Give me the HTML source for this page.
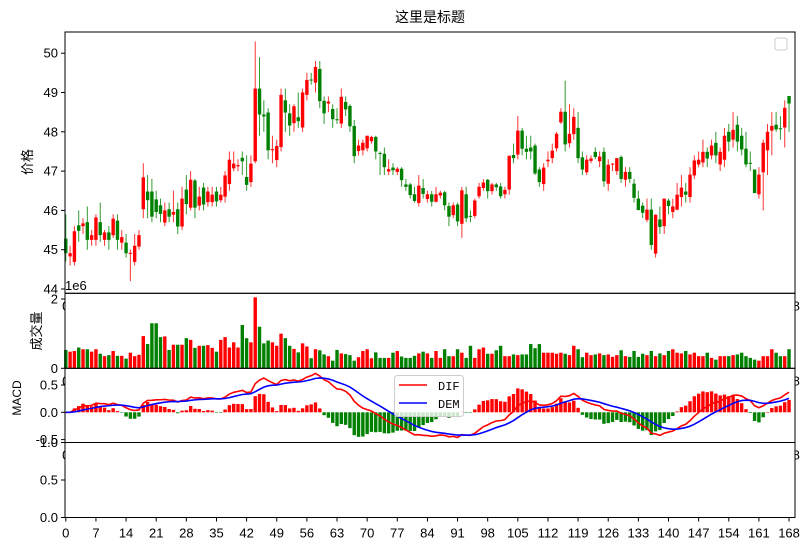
<!DOCTYPE html>
<html><head><meta charset="utf-8">
<style>
html,body{margin:0;padding:0;background:#fff;}
svg{display:block;font-family:"Liberation Sans","Noto Sans CJK SC",sans-serif;}
</style></head>
<body>
<svg id="chart" width="809" height="549" viewBox="0 0 809 549" xmlns="http://www.w3.org/2000/svg">
<rect x="0" y="0" width="809" height="549" fill="#fff"/>
<text x="430" y="22" font-size="14" text-anchor="middle">这里是标题</text>
<g id="g-main"></g>
<g id="g-vol"></g>
<g id="g-macd"></g>
<g id="g-bot"></g>
<g id="g-top"></g>
</svg>
<script>
const opens=[45.28,44.83,44.69,45.62,45.60,45.70,45.25,45.25,45.70,45.25,45.44,45.37,45.74,45.18,45.18,44.90,44.69,45.08,46.03,46.48,46.48,46.28,46.13,45.69,46.03,45.89,46.03,45.59,46.53,46.07,46.76,46.12,46.58,46.21,46.21,46.48,46.26,46.35,46.67,47.07,47.12,47.34,46.85,46.72,47.25,49.10,48.44,48.49,47.53,47.28,47.61,48.80,48.47,48.22,48.37,48.11,48.94,49.33,49.25,49.60,48.79,48.72,48.58,48.32,48.21,48.76,48.66,48.15,47.51,47.53,47.58,47.76,47.87,47.46,47.44,46.99,47.09,46.98,47.06,46.66,46.66,46.41,46.19,46.57,46.29,46.41,46.22,46.38,46.46,46.11,45.88,46.15,45.66,46.41,45.86,45.86,46.36,46.57,46.78,46.49,46.66,46.61,46.41,46.53,47.41,47.42,48.03,47.57,47.60,47.65,47.04,46.67,47.25,47.33,47.58,48.24,48.51,47.71,47.94,48.10,47.35,46.97,47.26,47.49,47.25,47.49,46.68,47.18,47.00,47.36,46.78,46.98,46.68,46.30,46.12,45.76,46.02,44.90,45.77,45.60,46.25,45.96,46.02,46.34,46.48,46.34,46.89,47.17,47.22,47.49,47.40,47.72,47.17,47.29,48.00,47.80,48.18,47.90,47.57,47.21,47.04,46.41,46.97,47.53,48.03,48.18,48.09,48.11,48.91];
const closes=[44.91,44.91,45.47,45.48,45.67,45.25,45.37,45.82,45.37,45.44,45.25,45.79,45.25,45.32,44.91,44.92,45.10,45.37,46.84,46.26,45.84,45.96,45.91,46.00,45.84,45.96,45.59,46.30,46.16,46.78,46.07,46.35,46.15,46.48,46.40,46.23,46.40,46.89,47.29,47.19,47.15,47.25,46.65,47.19,49.10,48.44,48.39,47.53,47.56,47.64,48.94,48.49,48.16,48.65,48.27,49.00,49.32,49.31,49.65,48.78,48.47,48.77,48.32,48.30,48.89,48.57,48.14,47.38,47.65,47.72,47.90,47.87,47.50,47.45,47.10,47.05,47.02,47.06,46.77,46.60,46.39,46.24,46.63,46.42,46.41,46.22,46.41,46.45,46.13,45.84,46.13,45.72,46.51,45.80,45.85,46.25,46.60,46.71,46.49,46.66,46.59,46.36,46.52,47.39,47.33,48.03,47.57,47.49,47.50,46.94,46.72,47.09,47.29,47.52,47.95,48.51,47.68,47.95,48.38,47.33,47.04,47.29,47.32,47.36,47.37,46.74,47.16,47.19,47.33,46.80,46.98,46.80,46.32,46.01,45.94,46.02,45.12,45.89,45.58,46.30,46.11,46.10,46.40,46.58,46.40,46.91,47.27,47.29,47.49,47.32,47.65,47.40,47.49,47.90,47.75,48.05,47.75,47.55,47.17,47.20,46.44,46.91,47.72,48.00,48.15,48.06,48.08,48.61,48.72];
const highs=[45.9,45.1,45.6,46.0,45.8,46.1,45.5,45.9,46.2,45.5,45.6,45.9,45.9,45.5,45.4,45.0,45.4,45.5,47.2,46.9,46.8,46.5,46.3,46.2,46.2,46.5,46.2,46.6,46.9,47.0,46.8,46.6,46.7,46.6,46.6,46.6,46.6,47.0,47.5,47.5,47.3,47.5,47.4,47.4,50.3,49.9,48.8,48.6,47.9,47.8,49.1,49.1,48.7,48.7,49.0,49.1,49.5,49.5,49.8,49.8,48.9,48.9,48.7,48.6,49.1,48.9,48.7,48.3,47.8,47.8,47.9,47.9,47.9,47.5,47.6,47.3,47.2,47.1,47.1,46.8,46.7,46.6,46.9,46.8,46.5,46.5,46.6,46.5,46.5,46.2,46.2,46.2,46.6,46.6,46.0,46.3,46.7,46.8,46.8,46.7,46.7,46.7,46.6,47.4,47.7,48.4,48.1,47.9,47.9,47.7,47.1,47.2,47.5,47.7,48.0,48.6,49.3,48.7,48.6,48.5,47.5,47.4,47.4,47.6,47.5,47.6,47.3,47.2,47.3,47.4,47.1,47.1,46.8,46.5,46.2,46.3,46.3,45.9,46.1,46.3,46.3,46.3,46.7,46.9,46.7,47.1,47.4,47.5,47.8,47.6,47.8,48.0,47.6,48.1,48.2,48.5,48.4,48.1,48.0,47.5,46.9,47.1,47.8,48.2,48.5,48.5,48.4,48.8,48.9];
const lows=[44.7,44.6,44.6,45.2,45.4,45.0,45.1,45.1,45.2,45.1,45.0,45.3,45.0,45.0,44.8,44.2,44.6,45.0,45.8,45.8,45.7,45.8,45.7,45.6,45.7,45.7,45.4,45.5,45.9,46.0,45.8,46.0,46.0,46.1,46.1,46.1,46.2,46.2,46.5,47.0,47.0,46.9,46.5,46.6,47.2,47.9,48.0,47.3,47.2,47.1,47.5,48.0,47.9,48.0,48.1,48.0,48.8,49.2,49.0,48.6,48.2,48.5,48.1,48.2,48.1,48.4,48.0,47.2,47.4,47.4,47.5,47.7,47.3,46.9,46.9,46.9,46.9,46.9,46.6,46.5,46.3,46.2,46.1,46.3,46.2,46.1,46.2,46.3,46.0,45.6,45.8,45.6,45.3,45.7,45.7,45.8,46.3,46.5,46.3,46.4,46.5,46.3,46.3,46.4,47.2,47.3,47.4,47.3,47.3,46.9,46.6,46.5,47.1,47.2,47.5,48.2,47.5,47.6,47.8,47.2,46.9,46.9,47.2,47.3,47.1,46.6,46.5,47.0,46.9,46.7,46.6,46.7,46.2,46.0,45.8,45.7,45.0,44.8,45.4,45.4,45.9,45.8,46.0,46.1,46.2,46.2,46.8,47.1,47.1,47.1,47.3,47.2,47.0,47.1,47.5,47.6,47.5,47.4,47.1,47.0,46.8,46.3,46.0,46.9,47.4,48.0,47.8,47.6,48.0,47.8];
const volumes=[0.53,0.48,0.5,0.6,0.55,0.55,0.48,0.55,0.42,0.35,0.38,0.5,0.36,0.36,0.28,0.45,0.35,0.39,0.93,0.7,1.3,1.3,0.9,0.92,0.53,0.68,0.68,0.68,0.87,0.82,0.59,0.65,0.65,0.67,0.59,0.48,0.82,0.9,0.6,0.75,0.6,1.25,0.87,0.75,2.05,1.2,0.72,0.8,0.75,0.65,1.0,0.87,0.65,0.56,0.46,0.72,0.63,0.29,0.55,0.52,0.4,0.35,0.22,0.53,0.43,0.41,0.38,0.22,0.32,0.5,0.55,0.29,0.46,0.3,0.3,0.3,0.45,0.5,0.34,0.3,0.3,0.36,0.43,0.48,0.43,0.3,0.5,0.3,0.55,0.35,0.35,0.55,0.45,0.3,0.65,0.3,0.55,0.6,0.42,0.42,0.52,0.65,0.35,0.35,0.4,0.38,0.4,0.4,0.7,0.58,0.7,0.45,0.45,0.45,0.42,0.45,0.42,0.38,0.65,0.55,0.32,0.45,0.38,0.4,0.43,0.38,0.4,0.33,0.38,0.52,0.35,0.33,0.5,0.33,0.42,0.38,0.5,0.35,0.43,0.38,0.5,0.55,0.45,0.43,0.5,0.4,0.45,0.35,0.35,0.45,0.3,0.25,0.35,0.35,0.35,0.38,0.4,0.45,0.35,0.3,0.25,0.22,0.35,0.35,0.55,0.45,0.35,0.35,0.55,0.6,0.6];
const xTicks=[0,7,14,21,28,35,42,49,56,63,70,77,84,91,98,105,112,119,126,133,140,147,154,161,168];
const priceTicks=[44,45,46,47,48,49,50];
const volTicks=[0,2];
const macdTicks=[-0.5,0,0.5];
const botTicks=[0,0.5,1.0];

const NS='http://www.w3.org/2000/svg';
const L=65,R=795;
const P={top:32,bot:293.3}, V={top:293.3,bot:368.3}, M={top:368.3,bot:442.5}, B={top:442.5,bot:517.5};
function xs(i){return 65.8+i*4.305;}
function yPrice(v){return 289-(v-44)*39.3;}
function yVol(v){return 368.3-v*34.65;}
function yMacd(v){return 412.3-v*54.6;}
function yBot(v){return 517.5-v*75;}
function mk(tag,attrs,parent){const e=document.createElementNS(NS,tag);for(const k in attrs)e.setAttribute(k,attrs[k]);parent.appendChild(e);return e;}
const gMain=document.getElementById('g-main'),gVol=document.getElementById('g-vol'),gMacd=document.getElementById('g-macd'),gBot=document.getElementById('g-bot'),gTop=document.getElementById('g-top');
const RED='#ff0000',GREEN='#008000';

for(let i=0;i<closes.length;i++){
  const o=opens[i],c=closes[i];
  const up=c>=o;const col=up?RED:GREEN;
  const hi=highs[i]!==undefined?highs[i]:Math.max(o,c);
  const lo=lows[i]!==undefined?lows[i]:Math.min(o,c);
  const w=mk('line',{x1:xs(i),x2:xs(i),y1:yPrice(Math.max(hi,o,c)),y2:yPrice(Math.min(lo,o,c)),stroke:col,'stroke-width':1,opacity:0.8},gMain);
  
  
  const top=yPrice(Math.max(o,c)),bh=Math.max(1,Math.abs(yPrice(o)-yPrice(c)));
  const b=mk('rect',{x:xs(i)-1.7,y:top,width:3.4,height:bh,fill:col},gMain);
  
  
  const vb=mk('rect',{x:xs(i)-1.7,y:yVol(volumes[i]),width:3.4,height:yVol(0)-yVol(volumes[i]),fill:col},gVol);
  
  
}

let e12=closes[0],e26=closes[0],dem=0;const dif=[],dea=[],hist=[];
for(let i=0;i<closes.length;i++){
  e12=e12+(closes[i]-e12)*2/13;e26=e26+(closes[i]-e26)*2/27;
  const d=e12-e26;dem=dem+(d-dem)*2/10;
  dif.push(d);dea.push(dem);hist.push(2*(d-dem));
}
for(let i=0;i<hist.length;i++){
  const h=hist[i];const y0=yMacd(0),y1=yMacd(h);
  const hb=mk('rect',{x:xs(i)-1.7,y:Math.min(y0,y1),width:3.4,height:Math.max(0.5,Math.abs(y1-y0)),fill:h>=0?RED:GREEN},gMacd);
  
  
}
const difL=mk('polyline',{points:dif.map((v,i)=>xs(i)+','+yMacd(v)).join(' '),fill:'none',stroke:RED,'stroke-width':1.6},gMacd);


const demL=mk('polyline',{points:dea.map((v,i)=>xs(i)+','+yMacd(v)).join(' '),fill:'none',stroke:'#0000ff','stroke-width':1.6},gMacd);



[P,V,M].forEach(pn=>{
  const t0=mk('text',{x:xs(0),y:pn.bot+17,'font-size':13,'text-anchor':'middle'},gTop);
  t0.textContent='0';
  
  
  const t1=mk('text',{x:xs(168),y:pn.bot+17,'font-size':13,'text-anchor':'middle'},gTop);
  t1.textContent='168';
  
  
});
const gFrames=mk('g',{},gTop);
[V,M,B].forEach(pn=>{
  const c=mk('rect',{x:L+0.5,y:pn.top+0.5,width:R-L-1,height:pn.bot-pn.top-1,fill:'#fff'},gFrames);
  
  
});
gFrames.appendChild(gVol.cloneNode(true));
gFrames.appendChild(gMacd.cloneNode(true));
gVol.remove();gMacd.remove();

[P,V,M,B].forEach(pn=>{
  const f=mk('rect',{x:L,y:pn.top,width:R-L,height:pn.bot-pn.top,fill:'none',stroke:'#000','stroke-width':1},gFrames);
  
  
});
function yTick(g,y,label,name){
  mk('line',{x1:L-4,x2:L,y1:y,y2:y,stroke:'#000'},g);
  const t=mk('text',{x:L-7,y:y+4.5,'font-size':13,'text-anchor':'end'},g);
  t.textContent=label;
  
  
}
priceTicks.forEach(v=>yTick(gFrames,yPrice(v),String(v),'price-tick-label'));
volTicks.forEach(v=>yTick(gFrames,yVol(v*1),String(v),'volume-tick-label'));
macdTicks.forEach(v=>yTick(gFrames,yMacd(v),v.toFixed(1),'macd-tick-label'));
botTicks.forEach(v=>yTick(gFrames,yBot(v),v.toFixed(1),'bottom-tick-label'));
xTicks.forEach(t=>{
  mk('line',{x1:xs(t),x2:xs(t),y1:B.bot,y2:B.bot+4,stroke:'#000'},gFrames);
  const tx=mk('text',{x:xs(t),y:B.bot+20,'font-size':13,'text-anchor':'middle'},gFrames);
  tx.textContent=String(t);
  
  
});
function txt(x,y,s,size,name,rot){
  const t=mk('text',{x:x,y:y,'font-size':size,'text-anchor':'middle'},gFrames);
  if(rot)t.setAttribute('transform','rotate(-90 '+x+' '+y+')');
  t.textContent=s;
  
  
}
txt(32,162,'价格',13,'price-axis-title',true);
txt(41,331,'成交量',13,'volume-axis-title',true);
txt(21,398,'MACD',12,'macd-axis-title',true);
const e6=mk('text',{x:65,y:290,'font-size':13},gFrames);
e6.textContent='1e6';


const lg0=mk('rect',{x:775,y:38,width:12,height:12,rx:2,fill:'#fff',stroke:'#ccc'},gFrames);


const lg=mk('rect',{x:394.5,y:375.5,width:69,height:41,rx:3,fill:'#fff','fill-opacity':0.8,stroke:'#ccc'},gFrames);


mk('line',{x1:399,x2:427,y1:385,y2:385,stroke:RED,'stroke-width':1.6},gFrames);
mk('line',{x1:399,x2:427,y1:403,y2:403,stroke:'#0000ff','stroke-width':1.6},gFrames);
const l1=mk('text',{x:438,y:390,'font-size':12,'font-family':'Liberation Mono, monospace'},gFrames);
l1.textContent='DIF';


const l2=mk('text',{x:438,y:408,'font-size':12,'font-family':'Liberation Mono, monospace'},gFrames);
l2.textContent='DEM';


</script>
</body></html>
